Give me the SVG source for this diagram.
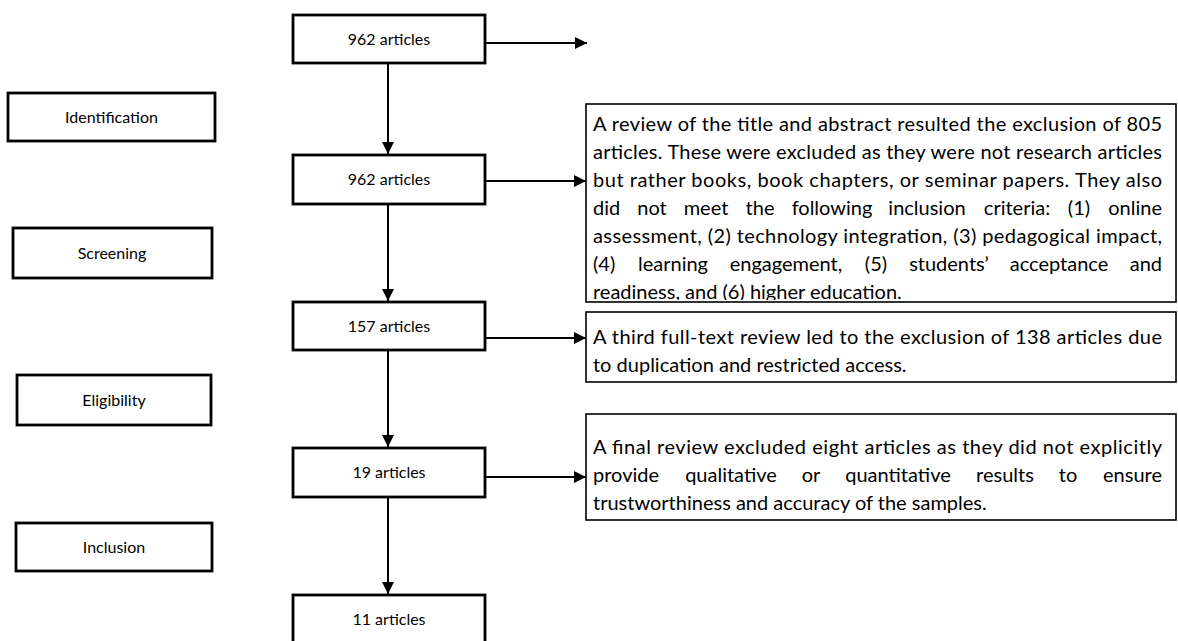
<svg xmlns="http://www.w3.org/2000/svg" width="1178" height="641" viewBox="0 0 1178 641">
<defs>
<style>
.b{fill:#fff;stroke:#000;stroke-width:2.8}
.r{fill:#fff;stroke:#000;stroke-width:1.6}
.c{stroke:#000;stroke-width:2;fill:none}
.t{font-family:Lato,"Open Sans","Liberation Sans",sans-serif;font-size:16px;fill:#000;text-anchor:middle}
.p{font-family:Lato,"Open Sans","Liberation Sans",sans-serif;font-size:20px;fill:#000}
.m{text-anchor:middle}
.e{text-anchor:end}
</style>
<marker id="ah" viewBox="0 0 10 10" refX="10" refY="5" markerWidth="6" markerHeight="6" markerUnits="strokeWidth" orient="auto">
<path d="M0,0 L10,5 L0,10 z" fill="#000"/>
</marker>
<clipPath id="clip805"><rect x="586" y="104" width="592" height="196"/></clipPath>
</defs>

<g id="stage-identification"><rect class="b" x="8" y="93" width="207" height="48"/><text class="t" x="111.5" y="123">Identification</text></g>
<g id="stage-screening"><rect class="b" x="13" y="228" width="199" height="50"/><text class="t" x="112" y="259">Screening</text></g>
<g id="stage-eligibility"><rect class="b" x="17" y="375" width="194" height="50"/><text class="t" x="114" y="406">Eligibility</text></g>
<g id="stage-inclusion"><rect class="b" x="16" y="523" width="196" height="48"/><text class="t" x="114" y="553">Inclusion</text></g>

<g id="n1"><rect class="b" x="293" y="15" width="192" height="48"/><text class="t" x="389" y="45">962 articles</text></g>
<g id="n2"><rect class="b" x="293" y="155" width="192" height="49"/><text class="t" x="389" y="185">962 articles</text></g>
<g id="n3"><rect class="b" x="293" y="302" width="192" height="48"/><text class="t" x="389" y="332">157 articles</text></g>
<g id="n4"><rect class="b" x="293" y="448" width="192" height="49"/><text class="t" x="389" y="478">19 articles</text></g>
<g id="n5"><rect class="b" x="293" y="595" width="192" height="50"/><text class="t" x="389" y="625">11 articles</text></g>

<g id="ex1"><rect class="r" x="586" y="104" width="590" height="198"/>
<g clip-path="url(#clip805)">
<text class="p" x="593" y="131" textLength="569" lengthAdjust="spacing">A review of the title and abstract resulted the exclusion of 805</text>
<text class="p" x="593" y="159" textLength="569" lengthAdjust="spacing">articles. These were excluded as they were not research articles</text>
<text class="p" x="593" y="187" textLength="569" lengthAdjust="spacing">but rather books, book chapters, or seminar papers. They also</text>
<text class="p" x="593" y="215">did</text>
<text class="p m" y="215"><tspan x="652">not</tspan><tspan x="706">meet</tspan><tspan x="760">the</tspan><tspan x="832">following</tspan><tspan x="927">inclusion</tspan><tspan x="1017">criteria:</tspan><tspan x="1079">(1)</tspan></text>
<text class="p e" x="1162" y="215">online</text>
<text class="p" x="593" y="243" textLength="569" lengthAdjust="spacing">assessment, (2) technology integration, (3) pedagogical impact,</text>
<text class="p" x="593" y="271">(4)</text>
<text class="p m" y="271"><tspan x="673">learning</tspan><tspan x="786">engagement,</tspan><tspan x="876">(5)</tspan><tspan x="949">students’</tspan><tspan x="1059">acceptance</tspan></text>
<text class="p e" x="1162" y="271">and</text>
<text class="p" x="593" y="299">readiness, and (6) higher education.</text>
</g></g>

<g id="ex2"><rect class="r" x="586" y="312" width="590" height="70"/>
<text class="p" x="593" y="344" textLength="569" lengthAdjust="spacing">A third full-text review led to the exclusion of 138 articles due</text>
<text class="p" x="593" y="372">to duplication and restricted access.</text>
</g>

<g id="ex3"><rect class="r" x="586" y="414" width="590" height="106"/>
<text class="p" x="593" y="454" textLength="569" lengthAdjust="spacing">A final review excluded eight articles as they did not explicitly</text>
<text class="p" x="593" y="482">provide</text>
<text class="p m" y="482"><tspan x="731">qualitative</tspan><tspan x="811">or</tspan><tspan x="898">quantitative</tspan><tspan x="1005">results</tspan><tspan x="1068">to</tspan></text>
<text class="p e" x="1162" y="482">ensure</text>
<text class="p" x="593" y="510">trustworthiness and accuracy of the samples.</text>
</g>

<g id="connectors">
<line class="c" x1="388" y1="63" x2="388" y2="154" marker-end="url(#ah)"/>
<line class="c" x1="388" y1="204" x2="388" y2="301" marker-end="url(#ah)"/>
<line class="c" x1="388" y1="350" x2="388" y2="447" marker-end="url(#ah)"/>
<line class="c" x1="388" y1="497" x2="388" y2="594" marker-end="url(#ah)"/>
<line class="c" x1="485" y1="43" x2="587" y2="43" marker-end="url(#ah)"/>
<line class="c" x1="485" y1="181" x2="586" y2="181" marker-end="url(#ah)"/>
<line class="c" x1="485" y1="338" x2="586" y2="338" marker-end="url(#ah)"/>
<line class="c" x1="485" y1="477" x2="586" y2="477" marker-end="url(#ah)"/>
</g>
</svg>
